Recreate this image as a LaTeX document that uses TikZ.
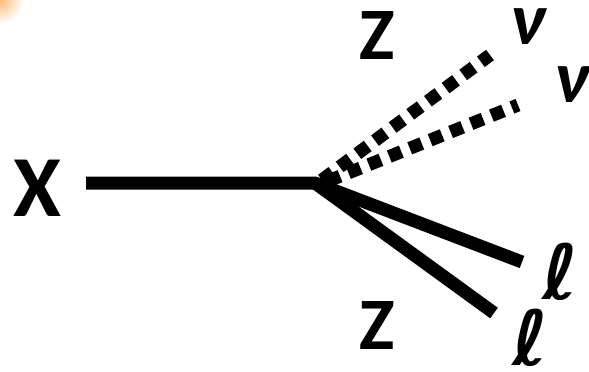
\documentclass[tikz,border=0pt]{standalone}
\usepackage{fontspec}
\setmainfont{Carlito}
\newfontfamily\dvs{DejaVu Sans}
\begin{document}
\begin{tikzpicture}[x=1pt,y=-1pt,
  lab/.style={font=\fontsize{87}{87}\selectfont\bfseries, inner sep=0pt},
  zlab/.style={font=\fontsize{74}{74}\selectfont\bfseries, inner sep=0pt},
  nulab/.style={font=\fontsize{74}{74}\selectfont\bfseries\itshape, inner sep=0pt},
  elllab/.style={font=\dvs\fontsize{76}{76}\selectfont\bfseries\itshape, inner sep=0pt},
  solidline/.style={line width=13pt, line join=round},
  dotline/.style={line width=13pt, dash pattern=on 13pt off 9pt}]
\useasboundingbox (0,0) rectangle (589,372);
\fill[white] (0,0) rectangle (589,372);
\begin{scope}
\clip (0,0) rectangle (589,372);
\shade[inner color=orange!55!white, outer color=white] (0,0) circle (24);
\end{scope}
\coordinate (v) at (315,183);
\coordinate (xs) at (86,183);
\coordinate (l1) at (522,262);
\coordinate (l2) at (494,313);
\coordinate (n1) at (490,55);
\coordinate (n2) at (518,105);
\coordinate (d1) at (322,180);
\coordinate (d2) at (328,181);
\node[lab] (X) at (37,188) {X};
\node[zlab] (Z1) at (377,36) {Z};
\node[zlab] (Z2) at (377,326) {Z};
\node[nulab] (nu1) at (528,27) {ν};
\node[nulab] (nu2) at (572,85) {ν};
\node[elllab] (ell1) at (560,272) {ℓ};
\node[elllab] (ell2) at (530,338) {ℓ};
\draw[solidline] (xs) -- (v) -- (l1);
\draw[solidline] (v) -- (l2);
\draw[dotline] (d1) -- (n1);
\draw[dotline] (d2) -- (n2);
\end{tikzpicture}
\end{document}
